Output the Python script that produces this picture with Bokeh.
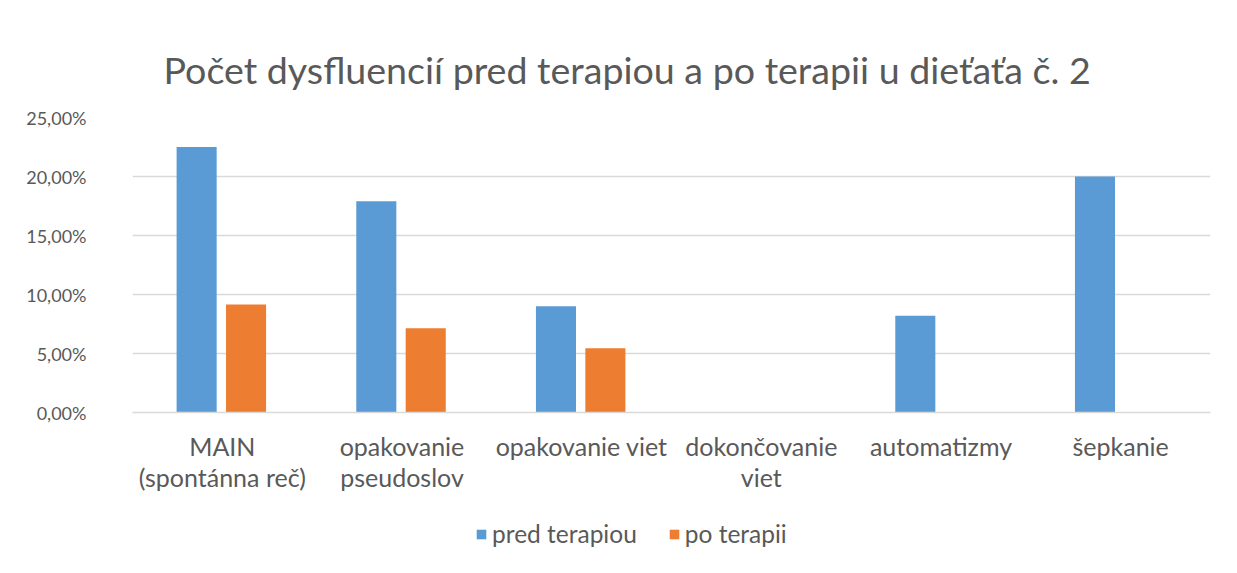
from bokeh.plotting import figure
from bokeh.models import (ColumnDataSource, FixedTicker, Legend, LegendItem, Range1d,
                          CategoricalAxis, CustomJSTickFormatter)
from bokeh.layouts import column
from bokeh.transform import dodge
from bokeh.embed import file_html
from bokeh.resources import INLINE

categories = ["MAIN (spontánna reč)", "opakovanie pseudoslov", "opakovanie viet",
              "dokončovanie viet", "automatizmy", "šepkanie"]
label_line1 = ["MAIN", "opakovanie", "opakovanie viet", "dokončovanie", "automatizmy", "šepkanie"]
label_line2 = ["(spontánna reč)", "pseudoslov", "", "viet", "", ""]
series_names = ["pred terapiou", "po terapii"]
pred_terapiou = [22.5, 17.9, 9.0, 0.0, 8.2, 20.0]
po_terapii = [9.15, 7.15, 5.45, 0.0, 0.0, 0.0]
y_ticks = [0, 5, 10, 15, 20, 25]
y_tick_labels = ["0,00%", "5,00%", "10,00%", "15,00%", "20,00%", "25,00%"]

FONT = "Lato"
GREY = "#595959"
BLUE = "#5b9bd5"
ORANGE = "#ed7d31"

src = ColumnDataSource(dict(cat=categories, pred=pred_terapiou, po=po_terapii))

p = figure(x_range=categories, y_range=Range1d(0, 25), width=1230, height=500,
           output_backend="svg", toolbar_location=None,
           title="Počet dysfluencií pred terapiou a po terapii u dieťaťa č. 2",
           min_border_left=132, min_border_right=20, min_border_top=117, min_border_bottom=88)

p.title.align = "left"
p.title.text_font = FONT
p.title.text_font_size = "37.6px"
p.title.text_font_style = "normal"
p.title.text_color = GREY
p.title.standoff = 51
p.title.offset = 31

p.vbar(x=dodge("cat", -0.143, range=p.x_range), top="pred", width=0.223, source=src,
       fill_color=BLUE, line_alpha=0)
p.vbar(x=dodge("cat", 0.132, range=p.x_range), top="po", width=0.223, source=src,
       fill_color=ORANGE, line_alpha=0)

p.outline_line_color = None
p.xgrid.grid_line_color = None
p.ygrid.grid_line_color = "#d9d9d9"
p.ygrid.grid_line_width = 1.5

p.yaxis.ticker = FixedTicker(ticks=y_ticks)
p.yaxis.major_label_overrides = {t: l for t, l in zip(y_ticks, y_tick_labels)}
p.yaxis.axis_line_color = None
p.yaxis.major_tick_line_color = None
p.yaxis.minor_tick_line_color = None
p.yaxis.major_label_text_font = FONT
p.yaxis.major_label_text_font_size = "18px"
p.yaxis.major_label_text_color = GREY
p.yaxis.major_label_standoff = 40

code = "return labels[cats.indexOf(tick)];"
xa = p.xaxis[0]
xa.formatter = CustomJSTickFormatter(args=dict(cats=categories, labels=label_line1), code=code)
xa.axis_line_color = "#d9d9d9"
xa.axis_line_width = 1.5
xa.major_tick_line_color = None
xa.minor_tick_line_color = None
xa.major_label_text_font = FONT
xa.major_label_text_font_size = "25px"
xa.major_label_text_color = GREY
xa.major_label_standoff = 12

xa2 = CategoricalAxis(formatter=CustomJSTickFormatter(args=dict(cats=categories, labels=label_line2), code=code),
                      axis_line_color=None, major_tick_line_color=None, minor_tick_line_color=None,
                      major_label_text_font=FONT, major_label_text_font_size="25px",
                      major_label_text_color=GREY, major_label_standoff=-8)
p.add_layout(xa2, "below")

# legend strip below the chart (its renderers are hidden; only the legend shows)
lg = figure(width=1230, height=70, x_range=categories, y_range=Range1d(0, 1),
            output_backend="svg", toolbar_location=None,
            min_border_left=0, min_border_right=0, min_border_top=0, min_border_bottom=0)
lg.axis.visible = False
lg.grid.visible = False
lg.outline_line_color = None
g1 = lg.vbar(x="cat", top="pred", width=0.2, source=src, fill_color=BLUE, line_alpha=0, visible=False)
g2 = lg.vbar(x="cat", top="po", width=0.2, source=src, fill_color=ORANGE, line_alpha=0, visible=False)
legend = Legend(items=[LegendItem(label=series_names[0], renderers=[g1]),
                       LegendItem(label=series_names[1], renderers=[g2])],
                orientation="horizontal", location=(343, 22),
                label_text_font=FONT, label_text_font_size="24.5px", label_text_color=GREY,
                glyph_width=12, glyph_height=12, spacing=31, label_standoff=5,
                inactive_fill_alpha=0,
                border_line_color=None, background_fill_alpha=0, padding=4, margin=0)
lg.add_layout(legend, "center")

layout = column(p, lg, spacing=0)
open("out.html", "w").write(file_html(layout, INLINE))
